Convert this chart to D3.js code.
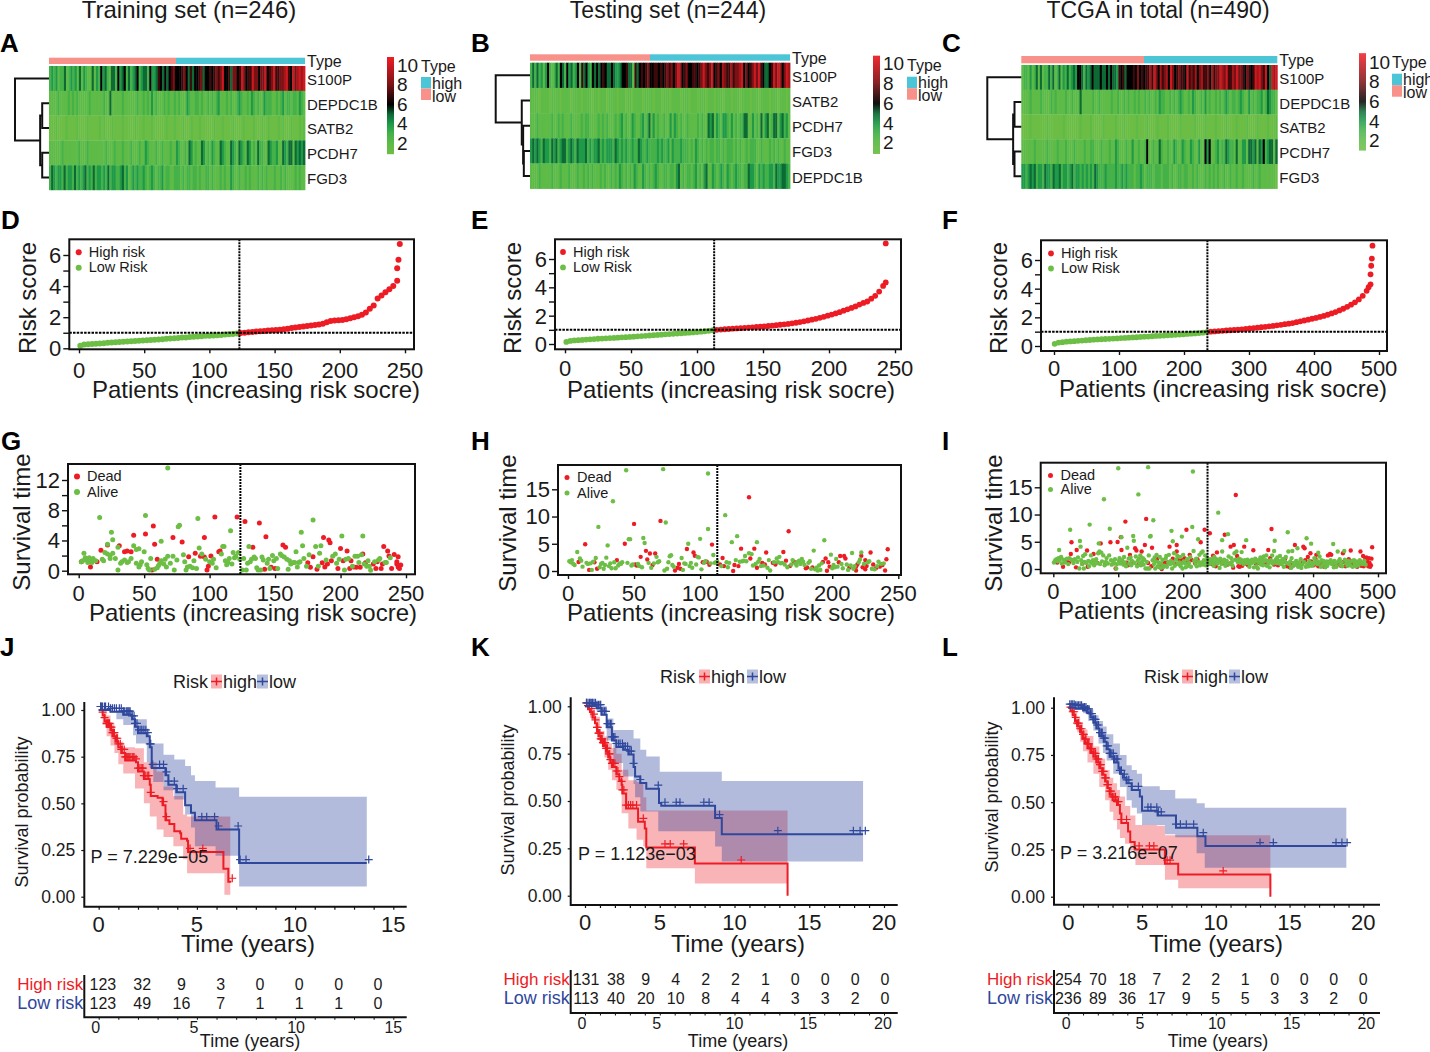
<!DOCTYPE html>
<html>
<head>
<meta charset="utf-8">
<script src="https://cdnjs.cloudflare.com/ajax/libs/d3/7.8.5/d3.min.js"></script>
<style>
body { margin: 0; background: #fff; }
text { font-family: 'Liberation Sans', Arial, sans-serif; fill: #1a1a1a; }
</style>
</head>
<body>
<div id="chart"></div>
<script>
const RED = '#ed1c24', GREEN = '#6cbe45', BLUE = '#2f479c'

const titles = ['Training set (n=246)', 'Testing set (n=244)', 'TCGA in total (n=490)']
const legendValues = [10, 8, 6, 4, 2]

// heatmap rows, one digit per column (a = 10)
const genesA = ['S100P', 'DEPDC1B', 'SATB2', 'PCDH7', 'FGD3']
const heatA = [
  '343423352343425243225243645325536456353456345536445765656786667865756678566767878a66758867a8677a88688a678a77889a76a89a9a',
  '222232222323232222232222223225222223222222322323242322232322323222432233232232323422232322343223243232243332232342332332432',
  '111211112111121111211111212111211112111112111211121111112111211121112111211111121112111121111211112111211211112121112111212',
  '222222322222223222322222222322232223222322232243222322322232243223254232254232432254322543254325423253322543342254355254545',
  '354344353443534345343534434353443345342343433432343233423322333232332332322332322232322432232232322232323222322323222232322'
]
const genesB = ['S100P', 'SATB2', 'PCDH7', 'FGD3', 'DEPDC1B']
const heatB = [
  '353534246323536536453463756436565676556544566755275676786677676787868a96786677678a878a6786987797889a68678a8a765567a8a968a9',
  '222212222122221222212222122221221222122221222122122221222212221222122221222122212221222122212221222122221222122221222122212',
  '222322222232232322232222323322223232322232342322432234235242322322424323223222232322545243244324232335522423252452355245342',
  '454543544354534553454354445343445343444354343433433543343333434334243334333232432323233233232333232322323332232223232322322',
  '222232222232223222322232232323222323223232432323243224323234322332332452323323423245224323432432343323354432434334435445543'
]
const genesC = ['S100P', 'DEPDC1B', 'SATB2', 'PCDH7', 'FGD3']
const heatC = [
  '2332423525233535235243534546653545655565565655476756667686767797a8697896a8678776a787968977869788a98a7798a88768767a9a87a65a9a',
  '222232222322223232222322322252222232232222232232232322323223232232433223232343223243223242322323234323323432242323342354332',
  '111121111111211111112111111121111211111211111211121111121111211112111121111121111112111121111211112111121111211112111121112',
  '222222322222322223222322232222322332223222322432223224223223622322532232243224322432242264622342335433252244255452546345525',
  '443454534435443544534434534434343435433343333433434333233432333233323332322332332232322232323232232232232232222322322222221'
]

// risk score of every third patient (every sixth for TCGA), the outliers by pair
const riskD = [.17,.24,.26,.27,.29,.31,.33,.35,.37,.39,.41,.42,.44,.46,.47,.48,.5,.51,.53,.55,.57,.59,.61,.63,.65,.67,.69,.7,.72,.74,.76,.78,.8,.81,.83,.84,.86,.88,.9,.92,.95,.98,1,1.03,1.05,1.08,1.1,1.12,1.14,1.16,1.18,1.2,1.22,1.26,1.3,1.33,1.37,1.4,1.44,1.47,1.5,1.53,1.58,1.68,1.76,1.78,1.8,1.82,1.87,1.94,2,2.06,2.15,2.3,2.55,2.75,3.2,3.4,3.6,3.8,4,4.35]
const riskTailD = [[244,5.15],[245,5.7],[246,6.7]]
const riskE = [.15,.22,.25,.27,.29,.31,.33,.35,.37,.38,.4,.42,.43,.45,.47,.48,.5,.52,.54,.56,.58,.6,.62,.64,.66,.68,.7,.72,.74,.76,.78,.8,.82,.84,.87,.9,.93,.97,1,1.02,1.04,1.06,1.08,1.1,1.12,1.14,1.16,1.18,1.2,1.22,1.24,1.27,1.3,1.33,1.36,1.39,1.42,1.46,1.5,1.55,1.6,1.66,1.72,1.78,1.85,1.92,2,2.08,2.16,2.25,2.35,2.45,2.55,2.65,2.78,2.9,3,3.2,3.4,3.7,4.1]
const riskTailE = [[243,4.35],[243,7.1]]
const riskF = [.15,.24,.27,.3,.32,.34,.36,.38,.4,.42,.44,.46,.47,.49,.5,.52,.53,.55,.56,.58,.6,.61,.63,.65,.66,.68,.7,.71,.73,.75,.76,.78,.8,.82,.84,.86,.88,.9,.93,.97,1,1.02,1.04,1.06,1.08,1.1,1.12,1.14,1.16,1.19,1.22,1.25,1.28,1.31,1.34,1.37,1.4,1.44,1.48,1.52,1.56,1.6,1.66,1.72,1.78,1.84,1.9,1.96,2.03,2.1,2.18,2.27,2.37,2.48,2.6,2.73,2.88,3.05,3.25,3.5,3.85]
const riskTailF = [[484,4.1],[487,4.3],[487,5],[488,5.6],[489,6.1],[490,7]]

// survival time scatter, [patient, years]
const deadG = [[2,1.2],[9,.5],[14,1.2],[17,2.7],[22,3.4],[31,3.3],[35,2.5],[37,2.6],[40,2.5],[42,4.7],[51,4.85],[57,5.9],[58,3.5],[56,.1],[60,1.5],[72,4.4],[79,3.8],[84,1.85],[89,2.3],[93,1.9],[96,4.4],[96,1.8],[98,.1],[99,.6],[101,1.95],[104,7.1],[107,2.5],[108,2.6],[121,7.1],[127,6.5],[138,6.3],[133,3.1],[143,4.5],[142,.2],[147,.45],[150,.3],[156,3.4],[158,3.1],[175,1.05],[177,.45],[179,1.85],[182,.2],[186,1.05],[187,4.4],[188,.5],[190,.9],[191,4.05],[192,3.7],[193,1.3],[198,.3],[200,2.95],[202,1.3],[205,2.6],[207,.3],[208,1.3],[210,.5],[212,.45],[215,.45],[217,2.2],[219,1.05],[225,.9],[227,.3],[228,1.2],[231,.3],[232,.9],[233,3.2],[236,2.6],[237,1.95],[239,.3],[241,2.15],[243,1.2],[244,1.85],[243,.9],[244,.5],[246,.75],[245,.3]]
const aliveG = [[68,13.6],[16,7.05],[51,7.3],[91,6.9],[77,6],[76,5.8],[116,5.3],[25,5.1],[26,4.1],[63,3.9],[22,3.5],[42,3.3],[30,3.1],[46,2.9],[44,2.8],[4,2.3],[2,1.2],[3,1.3],[5,1.7],[6,1.4],[7,1.1],[8,1.7],[9,1.4],[10,1.1],[11,1.6],[13,1.3],[18,1.5],[19,1.3],[20,2.4],[22,2.2],[24,2],[24,1.6],[26,2.3],[28,1.6],[30,.1],[32,1],[33,1.2],[35,1.4],[37,1.1],[38,1.2],[40,1.6],[44,1],[46,.5],[47,.8],[48,1.2],[50,2.5],[52,.8],[53,.3],[54,.1],[55,1.6],[58,.2],[60,.4],[61,.7],[62,1],[63,1.3],[65,.9],[66,1.5],[67,.5],[68,1.9],[70,1],[72,1.9],[73,.1],[75,1.4],[80,2.1],[81,1.2],[82,.1],[83,.5],[85,.6],[87,.4],[88,1.3],[90,.3],[92,3],[94,2.2],[97,1.5],[100,1.2],[102,1],[103,1.5],[105,.4],[109,2.2],[110,3.2],[111,3.2],[112,1.3],[113,.8],[114,1.1],[115,1.6],[117,.9],[118,2.4],[119,1.7],[120,1.9],[122,2.4],[123,1.5],[125,.1],[126,1.6],[128,.1],[129,1],[130,3.2],[131,1.2],[132,1.5],[134,1.8],[135,1.6],[136,.4],[137,.1],[139,.1],[140,1.8],[141,1.4],[144,1],[145,1.5],[146,.3],[148,2],[149,1.3],[151,1.6],[152,.3],[154,2.2],[155,2],[157,1.8],[159,1.5],[160,.2],[161,1.3],[162,.9],[164,1.1],[165,1.1],[166,2.5],[167,.5],[168,1.1],[169,1.2],[170,5.1],[171,3.3],[172,1.6],[174,.6],[176,2.1],[179,6.7],[181,3.2],[183,.6],[184,2.3],[185,3.3],[189,1.4],[194,1.9],[196,2.2],[197,1],[199,1.5],[201,4.6],[203,.1],[204,1.5],[206,1.6],[209,.6],[211,1.9],[213,1.9],[214,1.1],[216,2.1],[217,4.6],[218,.9],[220,.6],[221,1.3],[222,.6],[223,.05],[226,1.2],[229,1.4],[230,1.6],[234,1.1],[235,1.1],[238,1.7]]
const deadH = [[8,1.65],[13,4.9],[16,.2],[20,1.6],[22,.4],[37,2],[43,5],[50,8.65],[51,1.2],[52,1],[55,2.6],[59,3.7],[60,2.1],[62,3.2],[64,1.1],[66,3.2],[70,9.2],[81,.1],[83,.6],[84,1.3],[85,.4],[90,4.05],[95,3.4],[96,2.8],[102,1.6],[105,1.7],[107,1.15],[109,4.85],[115,1.2],[117,2.4],[118,.9],[125,0],[126,1.1],[129,.9],[131,4.1],[137,13.55],[138,2.3],[141,4.1],[143,.6],[147,1.5],[149,1.2],[150,3.4],[155,1.5],[157,1.2],[163,3.5],[165,1.9],[167,7.3],[168,.9],[171,1.7],[180,.5],[181,.65],[185,.65],[193,1.65],[195,2.3],[196,.05],[197,1.6],[198,.8],[205,1.6],[206,2.75],[209,2.75],[210,2.3],[213,.65],[218,.8],[219,1.2],[218,.1],[222,2.8],[223,.7],[225,.3],[226,.9],[225,2],[229,3.4],[231,1.2],[233,.5],[236,.8],[238,1.1],[240,.1],[241,2.15],[242,4]]
const aliveH = [[44,18.5],[72,18.7],[106,17.9],[34,12.8],[23,8.1],[74,8.9],[106,7.7],[119,10.25],[128,6.4],[124,5.3],[30,4.7],[46,5.85],[47,5.85],[57,6.05],[58,5.15],[91,5],[100,5.9],[143,5.3],[194,5.65],[186,3.75],[7,3.5],[110,2.95],[134,2.75],[137,3.25],[139,3.1],[199,3],[215,3.3],[222,3.4],[29,2.45],[1,1.8],[2,1.6],[3,2],[4,1.3],[5,1.1],[9,2.3],[10,1.9],[11,.8],[14,1.5],[15,1.3],[17,1.4],[18,.2],[19,1.7],[21,2.4],[24,.7],[25,1.3],[26,1.5],[27,.4],[28,1.1],[31,.9],[32,1.4],[33,.5],[35,1.6],[36,.5],[38,1],[39,1.4],[40,1.3],[41,1.6],[45,1.5],[48,1],[49,1.2],[53,1.3],[54,.9],[56,.7],[61,1.5],[63,.6],[65,1.4],[67,2.6],[68,1.6],[69,1.8],[73,.1],[75,.4],[76,1.6],[77,2.7],[78,2.9],[79,1.1],[80,.8],[86,2.4],[87,.2],[88,1.4],[89,1.3],[92,.9],[93,1.5],[94,.6],[97,1.2],[98,2.6],[99,2.5],[101,.3],[103,1.5],[104,1.8],[108,1.4],[111,1.5],[112,1.6],[113,1.7],[116,.9],[120,1.6],[121,.7],[122,1.5],[127,2],[130,1.7],[132,1.8],[133,1.9],[135,1.8],[140,1],[142,1.3],[144,1.7],[145,2.2],[146,.9],[148,1],[151,.6],[152,2],[153,.1],[156,1.6],[158,2.3],[159,1.6],[160,2.6],[161,1.4],[162,1.5],[164,1.2],[166,.7],[169,1.2],[170,2],[172,1.4],[173,1],[174,1.7],[175,1.9],[176,1.3],[177,2.2],[178,1.7],[179,1.1],[182,1.5],[183,1.8],[184,.4],[187,.3],[188,.6],[189,.1],[190,1],[191,.2],[192,1.4],[200,.5],[201,1.1],[202,.7],[203,2.2],[204,.8],[207,1.3],[208,.5],[211,1.2],[212,.2],[214,1],[216,.4],[217,.9],[220,1.6],[221,2.1],[224,1.3],[227,1.6],[228,1.8],[230,.4],[232,.3],[234,.9],[235,1.7],[237,1.3],[239,1.4]]
const deadI = [[6,1.2],[15,.4],[20,1.5],[24,1.2],[27,2.75],[28,4.9],[35,.3],[36,3.5],[52,3.4],[53,.4],[62,2.75],[73,4.7],[88,4.9],[96,.1],[99,4.95],[105,3.5],[105,1.5],[104,5.85],[111,8.7],[113,1.15],[118,2.6],[126,3.8],[128,3.4],[143,9.2],[136,3.2],[141,4.4],[152,3.9],[160,1.85],[167,0],[172,1.15],[179,4.1],[190,4.4],[190,3.2],[193,1.8],[202,2],[205,7.2],[210,2.6],[213,1.65],[227,4.9],[233,7.2],[241,6.55],[246,2.45],[252,3.05],[264,6.3],[273,4.1],[278,4.4],[281,13.6],[283,2.4],[277,.25],[287,.4],[294,4.1],[308,3.45],[336,7.35],[331,3.5],[372,4.4],[385,4.1],[387,3.8],[396,2.9],[405,2.6],[426,2.75],[446,2.9],[458,3.4],[473,3.2],[477,2.4],[486,2],[491,4],[30,1.6],[45,1],[68,1.1],[80,.9],[115,.7],[122,1.3],[131,.8],[146,1.1],[151,.5],[163,.4],[170,.7],[176,1.2],[184,1.9],[188,.9],[198,1.6],[207,1.4],[218,1.1],[222,1.8],[238,1],[244,.9],[250,.5],[258,1.5],[262,1.1],[268,.8],[272,1],[285,.5],[291,.6],[296,1],[300,.7],[305,1.4],[312,1],[318,1.1],[326,1.2],[334,2],[340,.8],[346,.7],[352,1.5],[357,1.9],[360,.5],[364,.3],[368,1],[371,.8],[375,.9],[380,.5],[384,1.1],[388,1.6],[392,2.2],[397,1.4],[401,.7],[404,1.8],[408,.5],[411,.6],[414,1.1],[417,.4],[420,.7],[423,2.5],[425,1.3],[428,2.6],[431,1],[434,.5],[437,.8],[440,1.1],[443,.6],[447,1.3],[450,.5],[452,.9],[455,1.8],[459,.7],[462,1.2],[465,.8],[468,.4],[471,1],[474,.6],[478,.5],[480,1.7],[482,2.1],[483,.8],[484,1.4],[485,.5],[487,1.1],[488,.4],[489,.7],[490,1.9]]
const aliveI = [[100,18.5],[146,18.7],[215,17.9],[131,13.7],[78,12.8],[254,10.35],[154,8.95],[56,8.15],[87,7.4],[26,7.2],[182,7],[214,7.7],[269,6.4],[361,6.75],[390,5.65],[397,4.65],[223,5.45],[198,5.95],[149,5.95],[150,6.05],[123,6.05],[105,5.85],[41,5.15],[341,5.2],[297,5.3],[260,5.3],[431,4.6],[124,5.2],[184,5.1],[9,3.5],[42,4.1],[70,4.7],[114,3.9],[260,3.2],[290,3.1],[340,3.3],[362,3.2],[368,3.3],[376,3.8],[408,3],[438,3.2],[448,3.3],[1,1.2],[3,1.6],[5,1.8],[7,1.4],[8,2],[10,1.7],[12,2.2],[13,1],[16,1.7],[18,1.2],[21,1.9],[23,.9],[25,2],[29,1.6],[31,1.1],[33,1.8],[37,1.3],[38,2.1],[40,.1],[43,1.6],[44,.9],[46,2.4],[47,.1],[48,1.3],[49,2.7],[51,1.1],[54,1.5],[55,.5],[57,1.3],[58,2.5],[60,1],[61,1.6],[63,.7],[64,1.2],[66,1.8],[67,1.1],[69,2.9],[71,3.2],[72,.9],[74,3],[75,1.4],[77,2.5],[79,.7],[81,1.3],[82,2],[84,1],[86,2.5],[89,1.6],[90,.8],[92,1.4],[94,1],[95,1.8],[97,.1],[98,.9],[101,1.5],[102,2],[103,1],[106,1.6],[108,.8],[109,2.2],[110,1.2],[112,.5],[116,1.9],[117,1],[119,2.1],[120,.7],[121,1.5],[125,1.1],[127,2.3],[129,.5],[130,1.5],[132,1.9],[133,1],[134,2.5],[135,.7],[137,1.4],[138,2],[139,.8],[140,1.7],[142,.1],[144,1.3],[145,.1],[147,2.5],[148,.1],[153,1.6],[155,.9],[156,2.1],[157,.1],[158,1.4],[159,2.6],[161,.5],[162,1.2],[164,2.2],[165,.2],[166,1],[168,1.7],[169,.3],[171,.6],[173,1.9],[174,2.4],[175,.4],[177,1.2],[178,2.6],[180,.9],[181,1.5],[183,.1],[185,1.1],[186,2.9],[187,.6],[189,1.7],[191,2.4],[192,.9],[194,1.2],[195,2.2],[196,.5],[197,1],[199,.1],[200,2.6],[201,1.4],[203,1],[204,.3],[206,1.8],[208,.6],[209,1.1],[211,2.2],[212,.4],[216,3.3],[217,1.5],[219,.9],[220,1.9],[221,.5],[224,1.3],[225,2.6],[226,.7],[228,3],[229,1.2],[230,3.2],[231,.8],[232,1.6],[234,2.5],[235,.7],[236,1.2],[237,2],[239,1.4],[240,.9],[242,1.8],[243,1.1],[245,1.6],[247,.6],[248,2.2],[249,1.2],[251,1.8],[253,1],[255,1.5],[256,.2],[257,1.9],[259,.9],[261,1.3],[263,1.7],[265,.6],[266,1],[267,1.5],[270,2.3],[271,.9],[274,2],[275,1.3],[276,.6],[279,2.9],[280,1.7],[282,3.2],[284,1.3],[286,1.9],[288,1.2],[289,1.7],[292,1.5],[293,.9],[295,1.6],[298,1.1],[299,1.7],[301,1.2],[302,.4],[303,1.5],[304,1],[306,1.7],[307,1.2],[309,.3],[310,1.3],[311,1.9],[313,.5],[314,1.4],[315,.1],[316,1.6],[317,1.2],[319,2.1],[320,.8],[321,1.3],[322,1.8],[323,.7],[324,2.3],[325,1.4],[327,1.6],[328,2.5],[329,.6],[330,1.5],[332,1.1],[333,.3],[335,1.6],[337,2.5],[338,1],[339,1.4],[342,1.2],[343,1.8],[344,1.1],[345,2.1],[347,1.5],[348,1],[349,2.4],[350,1.3],[351,.9],[353,1.8],[354,1.2],[355,.4],[356,1.5],[358,2.2],[359,1.1],[363,.9],[365,1.4],[366,.2],[367,2],[369,.5],[370,1.1],[373,.8],[374,1.5],[377,.4],[378,1.2],[379,.7],[381,1.8],[382,.2],[383,.8],[386,1.3],[389,.4],[391,.9],[393,.5],[394,1.5],[395,1.1],[398,.6],[399,1.1],[400,.8],[402,2],[403,1.3],[406,1.5],[407,.9],[409,1.2],[410,2.3],[412,.4],[413,1.6],[415,.8],[416,1.5],[418,1.1],[419,.3],[421,1.4],[422,.6],[424,1.1],[427,1.6],[429,.9],[430,1.3],[432,.3],[433,1.5],[435,1],[436,.4],[439,1.4],[441,1.8],[442,.8],[444,1.2],[445,.5],[449,1.7],[451,1],[453,.6],[454,1.5],[456,1.2],[457,.7],[460,1.5],[461,.4],[463,1.6],[464,1],[466,.5],[467,1.4],[469,1.1],[470,.7],[472,1.6],[475,1.2],[476,.9],[479,1.5],[481,.8]]

// Kaplan-Meier steps [years, survival], bands [years, lower, upper]
const kmHighJ = [[0,1],[.2,.97],[.3,.94],[.4,.91],[.6,.89],[.7,.86],[.85,.83],[1,.8],[1.15,.77],[1.35,.73],[1.9,.72],[2,.67],[2.3,.63],[2.6,.6],[2.65,.54],[3,.53],[3.25,.49],[3.4,.41],[3.6,.39],[3.85,.35],[4.15,.34],[4.2,.31],[4.5,.3],[4.55,.24],[6.35,.24],[6.35,.15],[6.6,.15],[6.6,.08],[6.75,.08]]
const bandHighJ = [[0,1,1],[.2,.92,.99],[.4,.86,.97],[.6,.81,.93],[.8,.77,.87],[1,.71,.83],[1.25,.66,.8],[1.85,.58,.795],[2.3,.5,.72],[2.6,.43,.72],[2.95,.36,.67],[3.3,.32,.59],[3.8,.27,.54],[4.3,.2,.44],[4.5,.125,.43],[6.4,.01,.43],[6.7,.01,.43]]
const kmLowJ = [[0,1],[.6,.99],[1.25,.975],[1.7,.95],[1.85,.91],[2,.875],[2.45,.86],[2.6,.8],[2.7,.69],[3.3,.69],[3.4,.65],[3.55,.6],[3.9,.6],[3.95,.56],[4.4,.56],[4.4,.49],[4.7,.45],[4.9,.41],[5.95,.41],[6,.36],[7.15,.36],[7.15,.18],[13.65,.18]]
const bandLowJ = [[0,1,1],[.9,.95,1],[1.25,.92,.99],[1.75,.865,.97],[1.9,.82,.95],[2.45,.72,.875],[2.6,.69,.82],[2.78,.615,.82],[3.3,.57,.76],[3.85,.52,.735],[4.4,.44,.7],[4.7,.37,.65],[4.9,.27,.62],[5.95,.22,.585],[7.15,.055,.535],[13.65,.055,.535]]
const censorHighJ = [.1,.2,.3,.4,.45,.5,.55,.6,.65,.7,.75,.8,.9,.95,1,1.1,1.15,1.2,1.3,1.35,1.4,1.45,1.5,1.55,1.6,1.7,1.75,1.8,1.9,2,2.1,2.2,2.25,2.3,2.4,2.5,2.55,2.65,3.3,3.45,4.65,5.3,6.8]
const censorLowJ = [.1,.15,.2,.3,.35,.5,.6,.7,.8,.9,1.05,1.15,1.25,1.3,1.4,1.45,1.5,1.55,1.6,1.7,1.8,1.85,1.95,2.05,2.15,2.2,2.3,2.4,2.5,2.6,2.65,2.75,3.1,3.3,3.45,3.55,3.85,4,4.3,5.25,5.5,5.9,6.1,7.1,7.2,7.5,13.75]
const kmHighK = [[0,1],[.2,.985],[.33,.97],[.5,.94],[.67,.91],[.8,.87],[.9,.84],[1.05,.81],[1.2,.79],[1.4,.76],[1.55,.73],[1.7,.7],[1.8,.68],[2.1,.64],[2.3,.61],[2.45,.585],[2.5,.54],[2.75,.46],[3.45,.46],[3.55,.39],[4,.355],[4.1,.255],[7.35,.255],[7.35,.17],[13.55,.17],[13.55,0]]
const bandHighK = [[0,1,1],[.33,.94,.985],[.67,.89,.945],[1,.805,.87],[1.3,.73,.84],[1.55,.665,.805],[1.8,.61,.78],[2.1,.56,.75],[2.45,.435,.665],[2.9,.355,.61],[3.45,.295,.6],[3.9,.26,.52],[4.1,.145,.45],[7.35,.065,.45],[13.55,.065,.45]]
const kmLowK = [[0,1],[.78,.99],[1.1,.955],[1.45,.89],[1.8,.82],[2.1,.785],[2.55,.77],[2.9,.745],[3.25,.68],[3.35,.63],[3.7,.595],[4.1,.565],[4.95,.49],[5.1,.475],[8.7,.475],[8.7,.41],[9.15,.41],[9.15,.325],[18.6,.325]]
const bandLowK = [[0,1,1],[.78,.97,1],[1.45,.82,.935],[1.9,.7,.875],[2.55,.63,.875],[3.25,.59,.83],[3.35,.52,.83],[3.7,.445,.77],[4.1,.445,.735],[4.9,.34,.735],[5,.34,.655],[8.7,.26,.655],[9.15,.18,.605],[18.6,.175,.605]]
const censorHighK = [.1,.2,.3,.45,.6,.7,.8,.85,.9,.95,1,1.05,1.1,1.15,1.2,1.25,1.3,1.35,1.4,1.45,1.5,1.6,1.65,1.7,1.8,1.85,1.9,2,2.1,2.2,2.3,2.45,2.5,2.6,2.75,2.9,3.05,3.2,3.45,3.9,5.35,5.7,6.6,10.45]
const censorLowK = [.1,.2,.3,.35,.45,.5,.6,.7,.8,.9,1,1.05,1.1,1.2,1.3,1.4,1.5,1.6,1.7,1.75,1.8,1.9,2,2.1,2.25,2.35,2.5,2.6,2.7,2.85,3,3.1,3.25,3.7,4.9,5.35,6.1,6.35,7.95,8.3,9,12.9,17.95,18.4,18.75]
const kmHighL = [[0,1],[.15,.985],[.3,.96],[.45,.93],[.6,.9],[.8,.87],[.95,.84],[1.1,.815],[1.3,.79],[1.5,.765],[1.7,.74],[1.9,.71],[2.1,.68],[2.3,.645],[2.5,.61],[2.65,.575],[2.8,.54],[3,.51],[3.3,.485],[3.5,.44],[3.6,.39],[4.05,.345],[4.2,.29],[4.5,.25],[6.55,.25],[6.55,.175],[7.45,.175],[7.45,.118],[13.7,.118],[13.7,0]]
const bandHighL = [[0,1,1],[.2,.96,.99],[.4,.91,.97],[.6,.87,.945],[.8,.82,.92],[1,.77,.885],[1.3,.71,.85],[1.7,.65,.795],[2.1,.58,.73],[2.5,.51,.67],[2.8,.45,.63],[3.05,.405,.6],[3.3,.355,.565],[3.5,.31,.53],[3.85,.28,.48],[4.2,.245,.43],[4.55,.168,.38],[6,.168,.375],[6.55,.09,.325],[7.45,.045,.325],[13.7,.045,.32]]
const kmLowL = [[0,1],[.5,.995],[1,.985],[1.25,.975],[1.5,.95],[1.7,.92],[1.9,.89],[2.1,.85],[2.4,.82],[2.6,.78],[2.8,.74],[3.1,.71],[3.4,.68],[3.5,.65],[3.7,.63],[3.95,.6],[4.3,.565],[4.85,.53],[5,.455],[6.05,.43],[7.3,.365],[8.75,.32],[9.3,.268],[18.85,.268]]
const bandLowL = [[0,1,1],[1,.97,1],[1.35,.93,.99],[1.7,.88,.96],[2.05,.81,.93],[2.35,.76,.9],[2.6,.72,.86],[3.05,.65,.81],[3.5,.58,.75],[3.95,.51,.695],[4.3,.47,.67],[4.65,.44,.65],[5,.38,.585],[6,.38,.585],[6.2,.38,.565],[6.55,.33,.565],[7.25,.315,.52],[8.7,.23,.495],[9.25,.153,.47],[18.85,.153,.47]]
const censorHighL = [.15,.3,.4,.5,.6,.7,.8,.9,1,1.05,1.15,1.2,1.3,1.35,1.4,1.5,1.55,1.6,1.7,1.75,1.85,1.9,2,2.05,2.15,2.2,2.3,2.4,2.5,2.55,2.65,2.7,2.8,2.9,3,3.1,3.2,3.3,3.4,3.6,3.95,4.8,5.5,5.8,6.7,6.9,10.5]
const censorLowL = [.1,.2,.3,.4,.5,.6,.7,.8,.9,1,1.1,1.2,1.3,1.4,1.5,1.6,1.7,1.8,1.85,1.95,2.05,2.15,2.25,2.3,2.4,2.5,2.6,2.7,2.8,2.85,2.95,3.05,3.15,3.25,3.35,3.5,3.6,3.8,3.95,4.1,4.3,4.75,5.4,5.6,6,6.1,6.3,7.3,7.6,8,8.5,9.15,13,13.9,18.15,18.55,18.9]

// numbers at risk, every two years
const atRiskHighJ = [123, 32, 9, 3, 0, 0, 0, 0]
const atRiskLowJ = [123, 49, 16, 7, 1, 1, 1, 0]
const atRiskHighK = [131, 38, 9, 4, 2, 2, 1, 0, 0, 0, 0]
const atRiskLowK = [113, 40, 20, 10, 8, 4, 4, 3, 3, 2, 0]
const atRiskHighL = [254, 70, 18, 7, 2, 2, 1, 0, 0, 0, 0]
const atRiskLowL = [236, 89, 36, 17, 9, 5, 5, 3, 3, 2, 0]

const svg = d3.select('#chart').append('svg').attr('width', 1430).attr('height', 1052)

const label = (x, y, s, size, opts = {}) =>
  svg.append('text').attr('x', x).attr('y', y).attr('dy', '.36em')
    .attr('font-size', size)
    .attr('text-anchor', opts.anchor || 'start')
    .attr('font-weight', opts.weight || 'normal')
    .attr('transform', opts.rotate ? `rotate(-90,${x},${y})` : null)
    .style('fill', opts.fill || '#1a1a1a')
    .text(s)

// titles and panel letters
;[[189, 24], [668, 23], [1158, 23]].forEach((d, i) => label(d[0], 9.5, titles[i], d[1], { anchor: 'middle' }))
const letters = [['A', 0, 43], ['B', 471, 43], ['C', 942, 43], ['D', 1, 220], ['E', 471, 220], ['F', 942, 220],
  ['G', 1, 441], ['H', 471, 441], ['I', 942, 441], ['J', 0, 647], ['K', 471, 647], ['L', 942, 647]]
letters.forEach(d => label(d[1], d[2], d[0], 26, { weight: 'bold', fill: '#000' }))

// heatmaps
const heatColor = d3.scaleLinear()
  .domain([1, 2, 3, 4, 5, 6, 8, 10.8])
  .range(['#6cbd45', '#5ebb47', '#45b249', '#1f9a49', '#0d6a35', '#000', '#7a1215', '#ee1c24'])

function drawHeat(p, rows, genes, tree) {
  const y = d3.scaleBand().domain(genes).range([p.top, p.bottom])
  const g = svg.append('g')
  genes.forEach((gene, r) => {
    const cols = rows[r].split('')
    const x = d3.scaleBand().domain(d3.range(cols.length)).range([p.left, p.right])
    g.append('g').selectAll('rect').data(cols).join('rect')
      .attr('x', (d, i) => x(i))
      .attr('y', y(gene))
      .attr('width', x.bandwidth() + 0.4)
      .attr('height', y.bandwidth() + 0.2)
      .attr('fill', d => heatColor(d === 'a' ? 10 : +d))
    label(p.right + 2, y(gene) + y.bandwidth() / 2 + 1, gene, 15)
  })
  // annotation bar
  svg.append('rect').attr('x', p.left).attr('y', p.annoTop).attr('width', p.split - p.left).attr('height', p.annoH).attr('fill', '#f8918a')
  svg.append('rect').attr('x', p.split).attr('y', p.annoTop).attr('width', p.right - p.split).attr('height', p.annoH).attr('fill', '#4cc5d6')
  label(p.right + 2, p.annoTop + 4, 'Type', 16)

  // dendrogram
  const dx = d3.scaleLinear().domain([0, 1]).range([p.left, p.root])
  const walk = node => {
    if (typeof node === 'string') return { x: dx(0), y: y(node) + y.bandwidth() / 2 }
    const a = walk(node.kids[0]), b = walk(node.kids[1]), nx = dx(node.h)
    svg.append('path').attr('fill', 'none').attr('stroke', '#111').attr('stroke-width', 2)
      .attr('d', `M${a.x},${a.y}H${nx}V${b.y}H${b.x}`)
    return { x: nx, y: (a.y + b.y) / 2 }
  }
  walk(tree)

  // colour key
  const cy = d3.scaleLinear().domain([p.cbLow, p.cbHigh]).range([p.cbBottom, p.cbTop])
  const steps = d3.range(p.cbTop, p.cbBottom, 1)
  svg.append('g').selectAll('rect').data(steps).join('rect')
    .attr('x', p.cbX).attr('y', d => d).attr('width', 7).attr('height', 1.2)
    .attr('fill', d => heatColor(cy.invert(d)))
  legendValues.forEach(v => label(p.cbX + 10, cy(v), v, 19))
  label(p.keyX, p.keyY, 'Type', 16)
  svg.append('rect').attr('x', p.keyX).attr('y', p.keyY + 11).attr('width', 10).attr('height', 11.5).attr('fill', '#4cc5d6')
  svg.append('rect').attr('x', p.keyX).attr('y', p.keyY + 22.5).attr('width', 10).attr('height', 11.5).attr('fill', '#f8918a')
  label(p.keyX + 11, p.keyY + 17, 'high', 16)
  label(p.keyX + 11, p.keyY + 30, 'low', 16)
}

drawHeat({ left: 49, right: 305, top: 66, bottom: 190, annoTop: 57.7, annoH: 6.3, split: 176, root: 15,
  cbX: 387, cbTop: 57, cbBottom: 154, cbLow: .9, cbHigh: 10.8, keyX: 421, keyY: 66 },
  heatA, genesA, { h: 1, kids: ['S100P', { h: .26, kids: [{ h: .2, kids: ['DEPDC1B', 'SATB2'] }, { h: .2, kids: ['PCDH7', 'FGD3'] }] }] })
drawHeat({ left: 530, right: 790, top: 62.7, bottom: 188.7, annoTop: 54.3, annoH: 6.4, split: 650, root: 495.7,
  cbX: 873, cbTop: 55.7, cbBottom: 153.3, cbLow: .9, cbHigh: 10.8, keyX: 907, keyY: 65.7 },
  heatB, genesB, { h: 1, kids: ['S100P', { h: .24, kids: ['SATB2', { h: .2, kids: ['PCDH7', { h: .18, kids: ['FGD3', 'DEPDC1B'] }] }] }] })
drawHeat({ left: 1021.3, right: 1277.3, top: 65, bottom: 188.7, annoTop: 56, annoH: 7.3, split: 1144, root: 987.3,
  cbX: 1359, cbTop: 53.3, cbBottom: 150, cbLow: 1, cbHigh: 10.9, keyX: 1392, keyY: 62.7 },
  heatC, genesC, { h: 1, kids: ['S100P', { h: .24, kids: [{ h: .2, kids: ['DEPDC1B', 'SATB2'] }, { h: .2, kids: ['PCDH7', 'FGD3'] }] }] })

// frame, axes and guide lines shared by the scatter rows
function drawFrame(p) {
  const x = d3.scaleLinear().domain([0, p.xMax]).range([p.x0, p.x1])
  const y = d3.scaleLinear().domain([0, p.yTick]).range([p.y0, p.y1])
  const xAxis = svg.append('g').attr('transform', `translate(0,${p.bottom})`)
    .call(d3.axisBottom(x).tickValues(p.xTicks).tickSize(4).tickFormat(() => ''))
  const yAxis = svg.append('g').attr('transform', `translate(${p.left},0)`)
    .call(d3.axisLeft(y).tickValues(p.yTicks).tickSize(6).tickFormat(() => ''))
  ;[xAxis, yAxis].forEach(a => {
    a.select('.domain').remove()
    a.selectAll('line').attr('stroke', '#111').attr('stroke-width', 1.4)
  })
  p.xTicks.forEach(t => label(x(t), p.tickY, t, 22, { anchor: 'middle' }))
  p.yLabels.forEach(t => label(p.left - 8, y(t), t, 22, { anchor: 'end' }))
  return { x, y }
}

function closeFrame(p, s, cut, h) {
  svg.append('line').attr('x1', s.x(cut)).attr('x2', s.x(cut)).attr('y1', p.top).attr('y2', p.bottom)
    .attr('stroke', '#000').attr('stroke-width', 2).attr('stroke-dasharray', '2,1')
  if (h !== undefined) {
    svg.append('line').attr('x1', p.left).attr('x2', p.right).attr('y1', s.y(h)).attr('y2', s.y(h))
      .attr('stroke', '#000').attr('stroke-width', 2).attr('stroke-dasharray', '2.5,1.2')
  }
  svg.append('rect').attr('x', p.left).attr('y', p.top).attr('width', p.right - p.left).attr('height', p.bottom - p.top)
    .attr('fill', 'none').attr('stroke', '#111').attr('stroke-width', 2)
  label(p.titleX, p.titleY, 'Patients (increasing risk socre)', 24, { anchor: 'middle' })
  label(p.yTitleX, p.yTitleY, p.yTitle, 24, { anchor: 'middle', rotate: true })
  ;[[p.names[0], RED, p.legY], [p.names[1], GREEN, p.legY + p.legGap]].forEach(d => {
    svg.append('circle').attr('cx', p.legX).attr('cy', d[2]).attr('r', p.legR || p.r).attr('fill', d[1])
    label(p.legX + 10, d[2] - 0.5, d[0], 14.5)
  })
}

function drawRisk(p, risk, tail, step, cut) {
  const s = drawFrame(p)
  const pts = risk.map((v, i) => [1 + i * step, v]).concat(tail)
  svg.append('g').selectAll('circle').data(pts).join('circle')
    .attr('cx', d => s.x(d[0])).attr('cy', d => s.y(d[1])).attr('r', p.r)
    .attr('fill', d => d[0] <= cut ? GREEN : RED)
  closeFrame(p, s, cut, 1)
}

const riskNames = ['High risk', 'Low Risk']
const tick250 = [0, 50, 100, 150, 200, 250], tick500 = [0, 100, 200, 300, 400, 500]
const tick6 = [0, 1, 2, 3, 4, 5, 6], lab6 = [0, 2, 4, 6]

drawRisk({ left: 69.3, right: 414, top: 239.3, bottom: 349.3, x0: 79, x1: 405, xMax: 250, y0: 348.3, y1: 255, yTick: 6,
  xTicks: tick250, yTicks: tick6, yLabels: lab6, tickY: 370, titleX: 256, titleY: 389, yTitleX: 27, yTitleY: 298, yTitle: 'Risk score',
  names: riskNames, legX: 78.7, legY: 252.3, legGap: 15.4, r: 3 }, riskD, riskTailD, 3, 123)
drawRisk({ left: 555, right: 901, top: 239.3, bottom: 349.3, x0: 565, x1: 895, xMax: 250, y0: 344, y1: 259, yTick: 6,
  xTicks: tick250, yTicks: tick6, yLabels: lab6, tickY: 368, titleX: 731, titleY: 389, yTitleX: 512, yTitleY: 298, yTitle: 'Risk score',
  names: riskNames, legX: 563, legY: 252, legGap: 15.4, r: 2.9 }, riskE, riskTailE, 3, 113)
drawRisk({ left: 1041, right: 1387, top: 240.3, bottom: 351, x0: 1054, x1: 1379, xMax: 500, y0: 346, y1: 260, yTick: 6,
  xTicks: tick500, yTicks: tick6, yLabels: lab6, tickY: 368, titleX: 1223, titleY: 388, yTitleX: 998, yTitleY: 298, yTitle: 'Risk score',
  names: riskNames, legX: 1051, legY: 253.5, legGap: 15, r: 2.9 }, riskF, riskTailF, 6, 236)

function drawSurvival(p, dead, alive, cut) {
  const s = drawFrame(p)
  ;[[dead, RED], [alive, GREEN]].forEach(d => {
    svg.append('g').selectAll('circle').data(d[0]).join('circle')
      .attr('cx', v => s.x(v[0])).attr('cy', v => s.y(v[1])).attr('r', p.r).attr('fill', d[1])
  })
  closeFrame(p, s, cut)
}

const survNames = ['Dead', 'Alive']
drawSurvival({ left: 68, right: 415, top: 464, bottom: 574.3, x0: 78.7, x1: 406, xMax: 250, y0: 570.7, y1: 480, yTick: 12,
  xTicks: tick250, yTicks: [0, 2, 4, 6, 8, 10, 12], yLabels: [0, 4, 8, 12], tickY: 593, titleX: 253, titleY: 612.5, yTitleX: 21, yTitleY: 522, yTitle: 'Survival time',
  names: survNames, legX: 77, legY: 476.5, legGap: 15.4, r: 2.5, legR: 3 }, deadG, aliveG, 123.5)
drawSurvival({ left: 558, right: 901, top: 465, bottom: 575, x0: 568, x1: 898.3, xMax: 250, y0: 571, y1: 489.3, yTick: 15,
  xTicks: tick250, yTicks: [0, 5, 10, 15], yLabels: [0, 5, 10, 15], tickY: 593, titleX: 731, titleY: 612, yTitleX: 507, yTitleY: 523, yTitle: 'Survival time',
  names: survNames, legX: 567, legY: 477.5, legGap: 15.6, r: 2.2, legR: 2.5 }, deadH, aliveH, 113)
drawSurvival({ left: 1040.7, right: 1386, top: 462.7, bottom: 573.3, x0: 1053.3, x1: 1378, xMax: 500, y0: 569, y1: 487.3, yTick: 15,
  xTicks: tick500, yTicks: [0, 5, 10, 15], yLabels: [0, 5, 10, 15], tickY: 591, titleX: 1222, titleY: 610, yTitleX: 993, yTitleY: 523, yTitle: 'Survival time',
  names: survNames, legX: 1050.5, legY: 475.5, legGap: 14, r: 2.2, legR: 2.5 }, deadI, aliveI, 237.5)

// Kaplan-Meier panels
function drawKM(p, d) {
  const x = d3.scaleLinear().domain([0, p.xMax]).range([p.x0, p.x1])
  const y = d3.scaleLinear().domain([0, 1]).range([p.y0, p.y1])
  const area = d3.area().curve(d3.curveStepAfter).x(v => x(v[0])).y0(v => y(v[1])).y1(v => y(v[2]))
  const line = d3.line().curve(d3.curveStepAfter).x(v => x(v[0])).y(v => y(v[1]))

  svg.append('path').datum(d.bandHigh).attr('d', area).attr('fill', RED).attr('fill-opacity', .33)
  svg.append('path').datum(d.bandLow).attr('d', area).attr('fill', BLUE).attr('fill-opacity', .37)
  ;[[d.kmHigh, d.censorHigh, RED], [d.kmLow, d.censorLow, BLUE]].forEach(c => {
    svg.append('path').datum(c[0]).attr('d', line).attr('fill', 'none').attr('stroke', c[2]).attr('stroke-width', 2)
    const surv = t => { let s = 1; c[0].forEach(v => { if (v[0] <= t) s = v[1] }); return s }
    svg.append('g').selectAll('path').data(c[1]).join('path')
      .attr('d', t => { const px = x(t), py = y(surv(t)) - 3.5; return `M${px - 4},${py}H${px + 4}M${px},${py - 4}V${py + 4}` })
      .attr('stroke', c[2]).attr('stroke-width', 1.2).attr('fill', 'none')
  })

  const ticks = d3.range(0, p.xMax + 1)
  const xAxis = svg.append('g').attr('transform', `translate(0,${p.bottom})`)
    .call(d3.axisBottom(x).tickValues(ticks).tickSize(3).tickFormat(() => ''))
  const yAxis = svg.append('g').attr('transform', `translate(${p.left},0)`)
    .call(d3.axisLeft(y).tickValues([0, .25, .5, .75, 1]).tickSize(3).tickFormat(() => ''))
  ;[xAxis, yAxis].forEach(a => {
    a.select('.domain').remove()
    a.selectAll('line').attr('stroke', '#111').attr('stroke-width', 1.2)
  })
  svg.append('path').attr('fill', 'none').attr('stroke', '#111').attr('stroke-width', 2)
    .attr('d', `M${p.left},${p.top}V${p.bottom}H${p.right}`)

  d3.range(0, p.xMax + 1, 5).forEach(t => label(x(t), p.bottom + 17, t, 22, { anchor: 'middle' }))
  ;[0, .25, .5, .75, 1].forEach(v => label(p.left - 9, y(v), v.toFixed(2), 17.5, { anchor: 'end' }))
  label(p.yTitleX, p.yTitleY, 'Survival probability', 18, { anchor: 'middle', rotate: true })
  label(p.timeX, 943, 'Time (years)', 24, { anchor: 'middle' })
  label(p.pX, p.pY, d.pText, 18)

  // legend
  label(p.legX, p.legY, 'Risk', 18)
  ;[[p.legX + p.legRed, RED, 'high'], [p.legX + p.legBlue, BLUE, 'low']].forEach(k => {
    svg.append('rect').attr('x', k[0]).attr('y', p.legY - 7).attr('width', 11).attr('height', 14).attr('fill', k[1]).attr('fill-opacity', .35)
    svg.append('path').attr('d', `M${k[0]},${p.legY}h11M${k[0] + 5.5},${p.legY - 4}v8`).attr('stroke', k[1]).attr('stroke-width', 1.5)
    label(k[0] + 12, p.legY, k[2], 18)
  })

  // risk table
  svg.append('path').attr('fill', 'none').attr('stroke', '#111').attr('stroke-width', 2)
    .attr('d', `M${p.left},${p.tableTop}V${p.tableBottom}H${p.right}`)
  svg.append('g').attr('transform', `translate(0,${p.tableBottom})`)
    .call(d3.axisBottom(x).tickValues(ticks).tickSize(2.5).tickFormat(() => ''))
    .call(a => a.select('.domain').remove())
    .call(a => a.selectAll('line').attr('stroke', '#111').attr('stroke-width', 1))
  label(p.left - 1, p.rowY, 'High risk', 17, { anchor: 'end', fill: RED })
  label(p.left - 1, p.rowY + 19, 'Low risk', 18, { anchor: 'end', fill: BLUE })
  ;[[d.atRiskHigh, p.rowY], [d.atRiskLow, p.rowY + 19]].forEach(r => {
    r[0].forEach((n, i) => label(x(i * 2) + p.rowDx, r[1], n, 16, { anchor: 'middle' }))
  })
  d3.range(0, p.xMax + 1, 5).forEach((t, i) => label(x(t) + p.tickDx[i], p.tableBottom + 10, t, 16, { anchor: 'middle' }))
  label(p.tableTimeX, 1041, 'Time (years)', 18, { anchor: 'middle' })
}

drawKM({ left: 84.3, right: 406.7, top: 702, bottom: 906.7, x0: 98.7, x1: 393.3, xMax: 15, y0: 896.7, y1: 710,
  yTitleX: 22, yTitleY: 812, timeX: 248, pX: 90.5, pY: 856.5, legX: 173, legY: 681.5, legRed: 38, legBlue: 84,
  tableTop: 975, tableBottom: 1017.3, rowY: 984, rowDx: 4.2, tickDx: [-3, -3, 1, 0], tableTimeX: 250 },
  { kmHigh: kmHighJ, bandHigh: bandHighJ, kmLow: kmLowJ, bandLow: bandLowJ, censorHigh: censorHighJ, censorLow: censorLowJ,
    atRiskHigh: atRiskHighJ, atRiskLow: atRiskLowJ, pText: 'P = 7.229e\u221205' })
drawKM({ left: 570.7, right: 897.7, top: 697.3, bottom: 905, x0: 585, x1: 884, xMax: 20, y0: 895.7, y1: 706.3,
  yTitleX: 508, yTitleY: 800, timeX: 738, pX: 578, pY: 854, legX: 660, legY: 676.5, legRed: 39, legBlue: 87,
  tableTop: 970, tableBottom: 1013, rowY: 979, rowDx: 1, tickDx: [-3, -3, 0, -1, -1], tableTimeX: 738 },
  { kmHigh: kmHighK, bandHigh: bandHighK, kmLow: kmLowK, bandLow: bandLowK, censorHigh: censorHighK, censorLow: censorLowK,
    atRiskHigh: atRiskHighK, atRiskLow: atRiskLowK, pText: 'P = 1.123e\u221203' })
drawKM({ left: 1054, right: 1380, top: 697.3, bottom: 904.7, x0: 1068.3, x1: 1363.3, xMax: 20, y0: 896.7, y1: 707.7,
  yTitleX: 991.5, yTitleY: 797, timeX: 1216, pX: 1060, pY: 853, legX: 1144, legY: 676.5, legRed: 38, legBlue: 85,
  tableTop: 970, tableBottom: 1013, rowY: 979, rowDx: 0, tickDx: [-2, -2, 1, 2, 3], tableTimeX: 1218 },
  { kmHigh: kmHighL, bandHigh: bandHighL, kmLow: kmLowL, bandLow: bandLowL, censorHigh: censorHighL, censorLow: censorLowL,
    atRiskHigh: atRiskHighL, atRiskLow: atRiskLowL, pText: 'P = 3.216e\u221207' })
</script>
</body>
</html>
